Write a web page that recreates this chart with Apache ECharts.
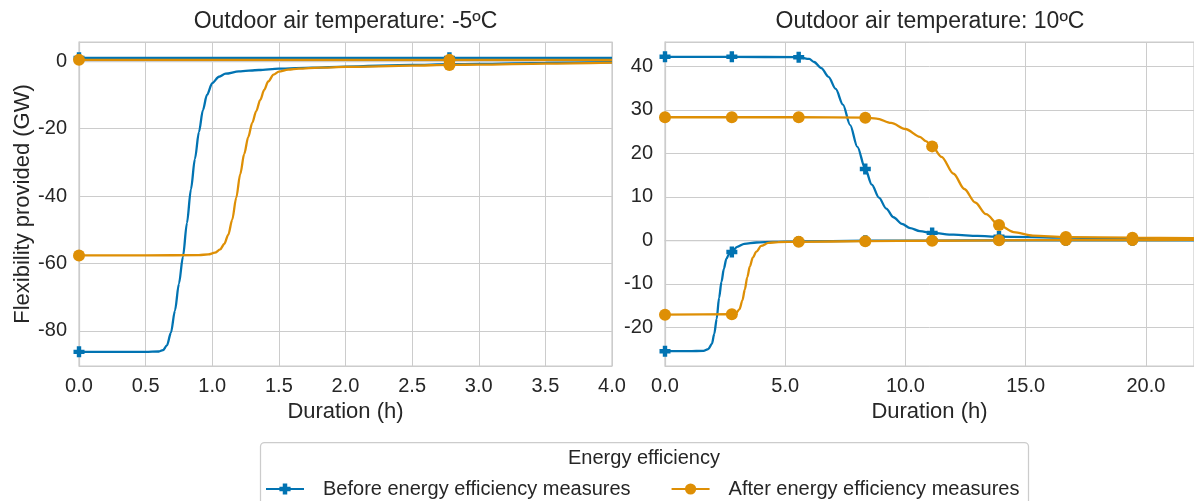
<!DOCTYPE html>
<html><head><meta charset="utf-8">
<script src="https://cdn.jsdelivr.net/npm/echarts@6/dist/echarts.min.js"></script>
<style>html,body{margin:0;padding:0;background:#fff}#c{width:1194px;height:501px}</style>
</head><body><div id="c"></div>
<script>
const FONT = "'Liberation Sans', Arial, sans-serif";
const seriesNames = ['Before energy efficiency measures', 'After energy efficiency measures'];
const panelTitles = ['Outdoor air temperature: -5ºC', 'Outdoor air temperature: 10ºC'];
const legendTitle = 'Energy efficiency';
const xAxisName = 'Duration (h)';
const yAxisName = 'Flexibility provided (GW)';
const leftXRange = [0, 4, 0.5];
const rightXRange = [0, 22, 5];
const leftYRange = [-90.4, 5.7];
const rightYRange = [-28.9, 45.6];
const leftMarkerX = [0, 2.78];
const rightMarkerX = [0, 2.78, 5.56, 8.33, 11.11, 13.89, 16.67, 19.44];

// Outdoor -5ºC
const leftBeforeUpper = [[0, 1.0], [2.78, 1.0], [4, 1.0]];
const leftBeforeLower = [[0, -86.2], [0.5, -86.2], [0.6, -86.1], [0.63, -85.7], [0.66, -84.3], [0.69, -80.5],
  [0.72, -74], [0.75, -66], [0.78, -58], [0.81, -48], [0.84, -38], [0.87, -29], [0.9, -21], [0.93, -14.5],
  [0.96, -10], [1.0, -6.5], [1.05, -4.6], [1.1, -3.7], [1.2, -3.0], [1.35, -2.6], [1.5, -2.2], [1.75, -1.9],
  [2.0, -1.6], [2.5, -1.1], [2.78, -0.9], [3.0, -0.8], [3.5, -0.5], [4.0, -0.3]];
const leftAfterUpper = [[0, 0.4], [2.78, 0.4], [4, 0.4]];
const leftAfterLower = [[0, -57.6], [0.5, -57.6], [0.9, -57.5], [0.97, -57.3], [1.02, -56.8], [1.06, -55.8],
  [1.09, -54.2], [1.12, -51.5], [1.15, -47], [1.18, -40.5], [1.21, -33.5], [1.24, -27.5], [1.27, -22.5],
  [1.3, -18.3], [1.33, -14.8], [1.36, -11.5], [1.39, -8.5], [1.42, -6.0], [1.46, -4.0], [1.5, -3.1],
  [1.57, -2.5], [1.65, -2.2], [1.8, -1.9], [2.0, -1.7], [2.5, -1.3], [2.78, -1.1], [3.0, -1.0], [3.5, -0.7], [4.0, -0.4]];

// Outdoor 10ºC
const rightBeforeUpper = [[0, 42.2], [2.78, 42.2], [5.56, 42.1], [6.0, 41.7], [6.2, 41.0], [6.5, 39.6], [6.8, 37.6],
  [7.1, 34.8], [7.4, 31.2], [7.7, 26.5], [8.0, 21.5], [8.33, 16.4], [8.6, 12.8], [8.9, 9.8], [9.2, 7.3],
  [9.5, 5.3], [9.85, 3.8], [10.2, 2.8], [10.6, 2.1], [11.11, 1.7], [12, 1.3], [13, 1.0], [13.89, 0.85],
  [16.67, 0.6], [19.44, 0.45], [22, 0.35]];
const rightBeforeLower = [[0, -25.5], [1.0, -25.5], [1.6, -25.4], [1.8, -25.0], [1.95, -23.8], [2.05, -21.5],
  [2.15, -18], [2.25, -13.2], [2.35, -9.5], [2.45, -6.5], [2.55, -4.3], [2.65, -3.3], [2.78, -2.7], [3.0, -1.5],
  [3.3, -0.8], [3.8, -0.5], [4.5, -0.35], [5.56, -0.25], [8.33, -0.1], [11.11, -0.05], [13.89, 0], [16.67, 0],
  [19.44, 0], [22, 0]];
const rightAfterUpper = [[0, 28.3], [2.78, 28.3], [5.56, 28.3], [8.33, 28.2], [8.8, 28.0], [9.4, 27.0], [10.0, 25.6],
  [10.6, 23.8], [10.85, 22.8], [11.11, 21.6], [11.5, 19.2], [12.0, 15.3], [12.45, 11.8], [12.9, 8.7],
  [13.35, 6.0], [13.89, 3.5], [14.5, 1.9], [15.3, 1.1], [16.67, 0.75], [19.44, 0.6], [22, 0.5]];
const rightAfterLower = [[0, -17.1], [2.78, -17.0], [2.95, -16.8], [3.1, -15.8], [3.22, -13.8], [3.32, -11.3],
  [3.42, -8.5], [3.53, -6.0], [3.65, -4.0], [3.8, -2.6], [4.0, -1.3], [4.3, -0.6], [4.7, -0.4], [5.56, -0.35],
  [8.33, -0.2], [11.11, -0.1], [13.89, 0], [16.67, 0.05], [19.44, 0.05], [22, 0.1]];

const BLUE = '#0173b2', ORANGE = '#de8f05', TXT = '#262626', GRID = '#cccccc';
const PLUS = 'path://M3,0H7V3H10V7H7V10H3V7H0V3H3Z';

function mk(idx, pts, markers, grid) {
  const isBefore = idx === 0;
  return {
    type: 'line', name: seriesNames[idx], xAxisIndex: grid, yAxisIndex: grid,
    symbol: isBefore ? PLUS : 'circle', symbolSize: isBefore ? 11 : 12,
    showSymbol: true, showAllSymbol: true, smooth: 0.3, smoothMonotone: 'x', clip: true,
    color: isBefore ? BLUE : ORANGE,
    lineStyle: { width: 2.3, color: isBefore ? BLUE : ORANGE },
    itemStyle: { color: isBefore ? BLUE : ORANGE },
    emphasis: { disabled: true },
    z: isBefore ? 2 : 3,
    data: pts.map(p => markers.some(m => Math.abs(m - p[0]) < 1e-6) ? { value: p } : { value: p, symbol: 'none' })
  };
}

const axisLabelStyle = { color: TXT, fontSize: 20, fontFamily: FONT };
function xAx(grid, r) {
  return {
    type: 'value', gridIndex: grid, min: r[0], max: r[1], interval: r[2],
    name: xAxisName, nameLocation: 'middle', nameGap: 33,
    nameTextStyle: { color: TXT, fontSize: 22, fontFamily: FONT },
    axisLine: { show: true, lineStyle: { color: GRID, width: 1.25 } },
    axisTick: { show: false },
    splitLine: { show: true, lineStyle: { color: GRID, width: 1 } },
    axisLabel: Object.assign({ margin: 10, showMaxLabel: grid === 0, formatter: v => v.toFixed(1) }, axisLabelStyle)
  };
}
function yAx(grid, r, withName) {
  return {
    type: 'value', gridIndex: grid, min: r[0], max: r[1],
    name: withName ? yAxisName : '', nameLocation: 'middle', nameGap: 37,
    nameTextStyle: { color: TXT, fontSize: 22, fontFamily: FONT },
    axisLine: { show: true, lineStyle: { color: GRID, width: 1.25 } },
    axisTick: { show: false },
    splitLine: { show: true, lineStyle: { color: GRID, width: 1 } },
    axisLabel: Object.assign({ margin: 12, showMinLabel: false, showMaxLabel: false }, axisLabelStyle)
  };
}

const chart = echarts.init(document.getElementById('c'), null, { renderer: 'canvas' });
chart.setOption({
  animation: false,
  backgroundColor: '#ffffff',
  textStyle: { fontFamily: FONT },
  grid: [
    { left: 79, top: 42, width: 533, height: 324, show: true, borderColor: GRID, borderWidth: 1.25, containLabel: false },
    { left: 665, top: 42, width: 529, height: 324, show: true, borderColor: GRID, borderWidth: 1.25, containLabel: false }
  ],
  xAxis: [xAx(0, leftXRange), xAx(1, rightXRange)],
  yAxis: [yAx(0, leftYRange, true), yAx(1, rightYRange, false)],
  legend: {
    data: seriesNames, left: 260, top: 474, itemWidth: 38, itemHeight: 14, itemGap: 40, z: 10,
    textStyle: { color: TXT, fontSize: 20, fontFamily: FONT, padding: [0, 0, 0, 14] },
    selectedMode: false
  },
  graphic: [
    { type: 'text', x: 345.5, y: 22, z: 10, style: { text: panelTitles[0], fill: TXT, font: '23px ' + FONT, textAlign: 'center', textVerticalAlign: 'middle' } },
    { type: 'text', x: 930, y: 22, z: 10, style: { text: panelTitles[1], fill: TXT, font: '23px ' + FONT, textAlign: 'center', textVerticalAlign: 'middle' } },
    { type: 'rect', z: 1, shape: { x: 260.5, y: 442.5, width: 768, height: 80, r: 4 }, style: { fill: '#ffffff', stroke: GRID, lineWidth: 1.25 } },
    { type: 'text', x: 644, y: 458, z: 10, style: { text: legendTitle, fill: TXT, font: '20px ' + FONT, textAlign: 'center', textVerticalAlign: 'middle' } }
  ],
  series: [
    mk(0, leftBeforeUpper, leftMarkerX, 0),
    mk(0, leftBeforeLower, leftMarkerX, 0),
    mk(0, rightBeforeUpper, rightMarkerX, 1),
    mk(0, rightBeforeLower, rightMarkerX, 1),
    mk(1, leftAfterUpper, leftMarkerX, 0),
    mk(1, leftAfterLower, leftMarkerX, 0),
    mk(1, rightAfterUpper, rightMarkerX, 1),
    mk(1, rightAfterLower, rightMarkerX, 1)
  ]
});
</script></body></html>
